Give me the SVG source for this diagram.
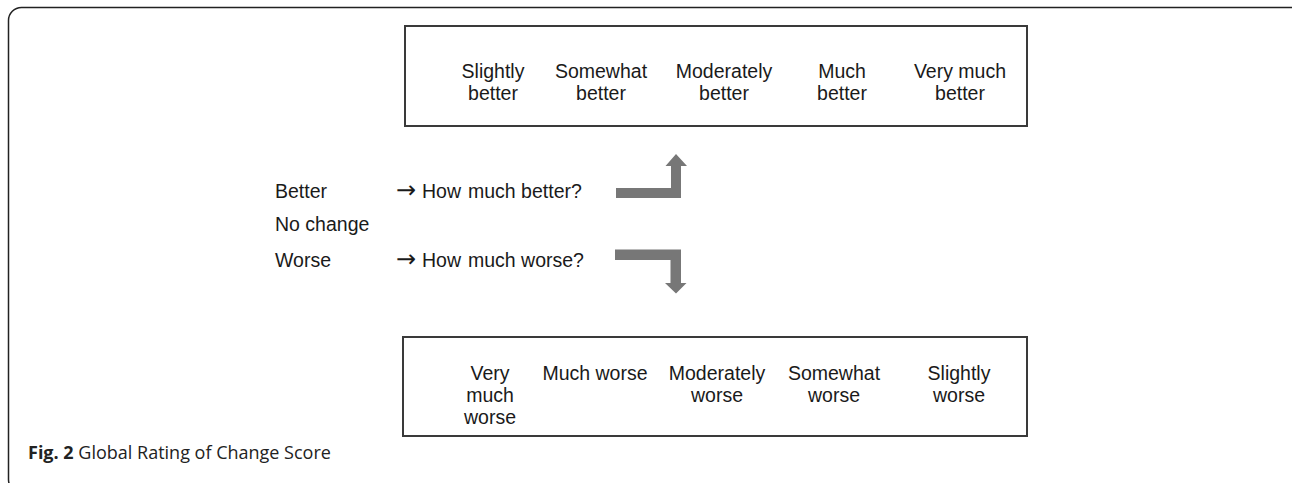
<svg xmlns="http://www.w3.org/2000/svg" width="1292" height="483" viewBox="0 0 1292 483">
<style>
.t{font-family:"Liberation Sans",Arial,sans-serif;font-size:19.5px;fill:#1a1a1a}
.c{text-anchor:middle}
.ar{font-family:"DejaVu Sans",sans-serif;font-size:24px}
.box{fill:#fff;stroke:#3a3a3a;stroke-width:2}
.arr{fill:#777;stroke:none}
.cap{font-family:"Open Sans","Noto Sans",sans-serif;font-size:18px;fill:#222}
</style>
<rect width="1292" height="483" fill="#fff"/>
<rect id="frame" x="8.5" y="7.5" width="1300" height="485" rx="13" fill="none" stroke="#222" stroke-width="1.5"/>
<g id="better-box">
<rect class="box" x="405" y="26" width="622" height="100"/>
<text class="t c" x="493" y="78">Slightly</text><text class="t c" x="493" y="100">better</text>
<text class="t c" x="601" y="78">Somewhat</text><text class="t c" x="601" y="100">better</text>
<text class="t c" x="724" y="78">Moderately</text><text class="t c" x="724" y="100">better</text>
<text class="t c" x="842" y="78">Much</text><text class="t c" x="842" y="100">better</text>
<text class="t c" x="960" y="78">Very much</text><text class="t c" x="960" y="100">better</text>
</g>
<g id="worse-box">
<rect class="box" x="403" y="337" width="624" height="99"/>
<text class="t c" x="490" y="380">Very</text><text class="t c" x="490" y="402">much</text><text class="t c" x="490" y="424">worse</text>
<text class="t c" x="595" y="380">Much worse</text>
<text class="t c" x="717" y="380">Moderately</text><text class="t c" x="717" y="402">worse</text>
<text class="t c" x="834" y="380">Somewhat</text><text class="t c" x="834" y="402">worse</text>
<text class="t c" x="959" y="380">Slightly</text><text class="t c" x="959" y="402">worse</text>
</g>
<g id="options">
<text class="t" x="275" y="198">Better</text>
<text class="t" x="275" y="231">No change</text>
<text class="t" x="275" y="267">Worse</text>
<text class="t" x="396" y="198"><tspan class="ar">→</tspan><tspan x="422">How</tspan><tspan x="468">much better?</tspan></text>
<text class="t" x="396" y="267"><tspan class="ar">→</tspan><tspan x="422">How</tspan><tspan x="468">much worse?</tspan></text>
</g>
<g id="connectors">
<polygon class="arr" points="616,188 671,188 671,166 665.5,166 676,154 687,166 681,166 681,198 616,198"/>
<polygon class="arr" points="615,249.5 681,249.5 681,283 686.5,283 676,293.5 665,283 670.5,283 670.5,260 615,260"/>
</g>
<g id="caption">
<text class="cap" x="28" y="459"><tspan font-weight="bold">Fig. 2</tspan> Global Rating of Change Score</text>
</g>
</svg>
